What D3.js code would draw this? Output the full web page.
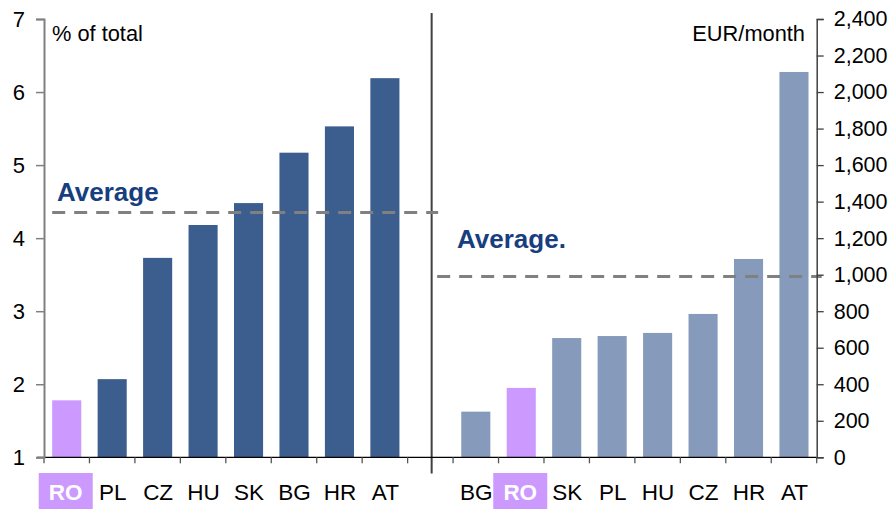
<!DOCTYPE html>
<html>
<head>
<meta charset="utf-8">
<script src="https://cdn.jsdelivr.net/npm/d3@7"></script>
<style>
  html, body { margin: 0; padding: 0; background: #fff; }
  svg { display: block; font-family: "Liberation Sans", Arial, sans-serif; }
</style>
</head>
<body>
<svg id="chart" width="893" height="509"></svg>
<script>
// ---- data ----
const leftCategories = ["RO", "PL", "CZ", "HU", "SK", "BG", "HR", "AT"];
const leftValues = [1.78, 2.07, 3.73, 4.18, 4.48, 5.17, 5.53, 6.19];
const leftAverage = 4.35;
const leftTicks = [1, 2, 3, 4, 5, 6, 7];
const leftUnit = "% of total";
const leftAvgLabel = "Average";

const rightCategories = ["BG", "RO", "SK", "PL", "HU", "CZ", "HR", "AT"];
const rightValues = [250, 380, 653, 664, 681, 785, 1086, 2110];
const rightAverage = 990;
const rightTicks = [0, 200, 400, 600, 800, 1000, 1200, 1400, 1600, 1800, 2000, 2200, 2400];
const rightUnit = "EUR/month";
const rightAvgLabel = "Average.";

const highlight = "RO";

// ---- layout ----
const svg = d3.select("#chart");
const margin = { left: 44, right: 893 - 816.7, top: 19, bottom: 509 - 457.3 };
const W = 893, H = 509;
const plotL = margin.left, plotR = W - margin.right;
const plotT = margin.top, plotB = H - margin.bottom;

const colLeft = "#3B5E8F";
const colRight = "#869BBB";
const colHi = "#CC99FF";
const colAvgText = "#173E7E";
const FONT = '"Liberation Sans", Arial, sans-serif';

// slot keys: left categories, a gap, right categories
const slots = leftCategories.map(c => "L-" + c)
  .concat(["gap"])
  .concat(rightCategories.map(c => "R-" + c));

const x = d3.scaleBand().domain(slots).range([plotL, plotR]).paddingInner(0.36).paddingOuter(0.18);
const step = x.step();
const slotStart = k => x(k) - step * 0.18;
const slotCenter = k => x(k) + x.bandwidth() / 2;

const yL = d3.scaleLinear().domain([1, 7]).range([plotB, plotT]);
const yR = d3.scaleLinear().domain([0, 2400]).range([plotB, plotT]);

// ---- bars ----
const leftData = leftCategories.map((c, i) => ({ key: "L-" + c, cat: c, v: leftValues[i] }));
const rightData = rightCategories.map((c, i) => ({ key: "R-" + c, cat: c, v: rightValues[i] }));

svg.append("g").selectAll("rect").data(leftData).join("rect")
  .attr("x", d => x(d.key)).attr("width", x.bandwidth())
  .attr("y", d => yL(d.v)).attr("height", d => yL(1) - yL(d.v))
  .attr("fill", d => d.cat === highlight ? colHi : colLeft);

svg.append("g").selectAll("rect").data(rightData).join("rect")
  .attr("x", d => x(d.key)).attr("width", x.bandwidth())
  .attr("y", d => yR(d.v)).attr("height", d => yR(0) - yR(d.v))
  .attr("fill", d => d.cat === highlight ? colHi : colRight);

// ---- divider ----
const divX = slotCenter("gap") + 1.3;
svg.append("line")
  .attr("x1", divX).attr("x2", divX).attr("y1", 13).attr("y2", 473.5)
  .attr("stroke", "#404040").attr("stroke-width", 2);

// ---- average lines ----
svg.append("line")
  .attr("x1", x("L-" + leftCategories[0])).attr("x2", divX + 6.5)
  .attr("y1", yL(leftAverage)).attr("y2", yL(leftAverage))
  .attr("stroke", "#808080").attr("stroke-width", 3).attr("stroke-dasharray", "13,9");
svg.append("line")
  .attr("x1", divX + 5.5).attr("x2", plotR + 5)
  .attr("y1", yR(rightAverage)).attr("y2", yR(rightAverage))
  .attr("stroke", "#808080").attr("stroke-width", 3).attr("stroke-dasharray", "13,9");

svg.append("text").attr("x", 57).attr("y", 201)
  .attr("font-size", 26).attr("font-weight", "bold").attr("fill", colAvgText)
  .text(leftAvgLabel);
svg.append("text").attr("x", 457).attr("y", 248)
  .attr("font-size", 26).attr("font-weight", "bold").attr("fill", colAvgText)
  .text(rightAvgLabel);

// ---- x axis baseline & ticks ----
svg.append("line")
  .attr("x1", plotL - 7).attr("x2", plotR).attr("y1", plotB).attr("y2", plotB)
  .attr("stroke", "#000").attr("stroke-width", 1.3);
const tickXs = slots.map(k => slotStart(k)).concat([plotR]);
svg.append("g").selectAll("line").data(tickXs).join("line")
  .attr("x1", d => d).attr("x2", d => d)
  .attr("y1", plotB).attr("y2", plotB + 6)
  .attr("stroke", "#555").attr("stroke-width", 1.3);

// ---- category labels ----
const allCats = leftData.concat(rightData);
const labG = svg.append("g");
allCats.forEach(d => {
  const cx = slotCenter(d.key);
  if (d.cat === highlight) {
    labG.append("rect").attr("x", cx - 28).attr("y", 473).attr("width", 54).attr("height", 40)
      .attr("fill", colHi);
    labG.append("text").attr("x", cx - 1).attr("y", 499.5).attr("text-anchor", "middle")
      .attr("font-size", 22.5).attr("font-weight", "bold").attr("fill", "#fff").text(d.cat);
  } else {
    labG.append("text").attr("x", cx + 0.5).attr("y", 499.5).attr("text-anchor", "middle")
      .attr("font-size", 22.5).attr("fill", "#000").text(d.cat);
  }
});

// ---- left axis ----
const axL = svg.append("g").attr("transform", `translate(${plotL},0)`)
  .call(d3.axisLeft(yL).tickValues(leftTicks).tickSize(8).tickPadding(11).tickFormat(d3.format("d")));
axL.select(".domain").attr("stroke", "#808080").attr("stroke-width", 2);
axL.selectAll(".tick line").attr("stroke", "#808080").attr("stroke-width", 1.5);
axL.selectAll(".tick text").attr("font-size", 22).attr("fill", "#000").attr("font-family", FONT);

// ---- right axis ----
const axR = svg.append("g").attr("transform", `translate(${plotR},0)`)
  .call(d3.axisRight(yR).tickValues(rightTicks).tickSize(7).tickPadding(10).tickFormat(d3.format(",")));
axR.select(".domain").attr("stroke", "#404040").attr("stroke-width", 1.5);
axR.selectAll(".tick line").attr("stroke", "#404040").attr("stroke-width", 1.3);
axR.selectAll(".tick text").attr("font-size", 21.5).attr("fill", "#000").attr("font-family", FONT);

// ---- unit labels ----
svg.append("text").attr("x", 52).attr("y", 40.5).attr("font-size", 21.8).attr("fill", "#000").text(leftUnit);
svg.append("text").attr("x", 805).attr("y", 40.5).attr("text-anchor", "end").attr("font-size", 21.8).attr("fill", "#000").text(rightUnit);
</script>
</body>
</html>
